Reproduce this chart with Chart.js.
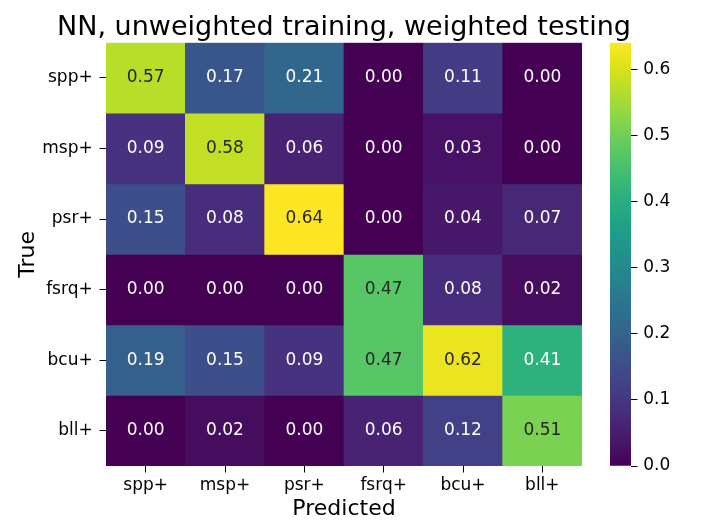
<!DOCTYPE html>
<html>
<head>
<meta charset="utf-8">
<script src="https://cdn.jsdelivr.net/npm/chart.js@4.4.1/dist/chart.umd.min.js"></script>
<style>
  body { margin: 0; background: #fff; }
  #wrap { position: relative; width: 706px; height: 530px; }
  #heat { position: absolute; left: 0; top: 0; }
  #cbar { position: absolute; left: 600px; top: 0; }
</style>
</head>
<body>
<div id="wrap">
  <canvas id="heat" width="706" height="530"></canvas>
  <canvas id="cbar" width="106" height="530"></canvas>
</div>
<script>
const predictedLabels = ['spp+', 'msp+', 'psr+', 'fsrq+', 'bcu+', 'bll+'];
const trueLabels = ['spp+', 'msp+', 'psr+', 'fsrq+', 'bcu+', 'bll+'];

// one row per true class
const rowSpp = [0.57, 0.17, 0.21, 0.00, 0.11, 0.00];
const rowMsp = [0.09, 0.58, 0.06, 0.00, 0.03, 0.00];
const rowPsr = [0.15, 0.08, 0.64, 0.00, 0.04, 0.07];
const rowFsrq = [0.00, 0.00, 0.00, 0.47, 0.08, 0.02];
const rowBcu = [0.19, 0.15, 0.09, 0.47, 0.62, 0.41];
const rowBll = [0.00, 0.02, 0.00, 0.06, 0.12, 0.51];
const rows = [rowSpp, rowMsp, rowPsr, rowFsrq, rowBcu, rowBll];

const colorbarTicks = [0.0, 0.1, 0.2, 0.3, 0.4, 0.5, 0.6];

const vmin = 0;
const vmax = Math.max(...rows.flat());

// viridis anchors (matplotlib)
const viridis = [
  '#440154', '#48186a', '#472d7b', '#424086', '#3b528b', '#33638d',
  '#2c728e', '#26828e', '#21918c', '#1fa088', '#28ae80', '#3fbc73',
  '#5ec962', '#84d44b', '#addc30', '#d8e219', '#fde725'
];

function hexToRgb(h) {
  return [parseInt(h.slice(1, 3), 16), parseInt(h.slice(3, 5), 16), parseInt(h.slice(5, 7), 16)];
}

function viridisRgb(t) {
  t = Math.min(1, Math.max(0, t));
  const pos = t * (viridis.length - 1);
  const i = Math.min(viridis.length - 2, Math.floor(pos));
  const f = pos - i;
  const a = hexToRgb(viridis[i]);
  const b = hexToRgb(viridis[i + 1]);
  return a.map((c, k) => Math.round(c + (b[k] - c) * f));
}

function cellColor(v) {
  const c = viridisRgb((v - vmin) / (vmax - vmin));
  return 'rgb(' + c.join(',') + ')';
}

// seaborn style: dark text on light cells
function textColor(v) {
  const lin = viridisRgb((v - vmin) / (vmax - vmin)).map(c => {
    c = c / 255;
    return c <= 0.03928 ? c / 12.92 : Math.pow((c + 0.055) / 1.055, 2.4);
  });
  const lum = 0.2126 * lin[0] + 0.7152 * lin[1] + 0.0722 * lin[2];
  return lum > 0.408 ? '#262626' : '#ffffff';
}

const FONT = 'DejaVu Sans';

const annotate = {
  id: 'annotate',
  afterDatasetsDraw(chart) {
    const ctx = chart.ctx;
    ctx.save();
    ctx.font = '17px "' + FONT + '"';
    ctx.textAlign = 'center';
    ctx.textBaseline = 'middle';
    chart.data.datasets.forEach((ds, i) => {
      chart.getDatasetMeta(i).data.forEach((bar, j) => {
        const v = rows[i][j];
        ctx.fillStyle = textColor(v);
        ctx.fillText(v.toFixed(2), bar.x, (bar.y + bar.base) / 2);
      });
    });
    ctx.restore();
  }
};

// title centred over the heatmap, not the whole canvas
const heatTitle = {
  id: 'heatTitle',
  afterDraw(chart) {
    const ctx = chart.ctx;
    const a = chart.chartArea;
    ctx.save();
    ctx.font = '27px "' + FONT + '"';
    ctx.fillStyle = '#000';
    ctx.textAlign = 'center';
    ctx.textBaseline = 'alphabetic';
    ctx.fillText('NN, unweighted training, weighted testing', (a.left + a.right) / 2, 35);
    ctx.restore();
  }
};

const datasets = rows.map((row, i) => ({
  label: trueLabels[i],
  data: row.map(() => [i, i + 1]),
  backgroundColor: row.map(v => cellColor(v)),
  borderWidth: 0,
  barPercentage: 1,
  categoryPercentage: 1,
  grouped: false
}));

new Chart(document.getElementById('heat'), {
  type: 'bar',
  data: { labels: predictedLabels, datasets: datasets },
  options: {
    responsive: false,
    animation: false,
    events: [],
    layout: { padding: { left: 0, right: 124, top: 42.7, bottom: 0 } },
    plugins: {
      legend: { display: false },
      tooltip: { enabled: false },
      title: { display: false }
    },
    scales: {
      x: {
        type: 'category',
        offset: true,
        afterFit(s) { s.height = 64; },
        grid: { display: true, drawOnChartArea: false, offset: false, tickColor: '#000', tickLength: 6.5, tickWidth: 1 },
        border: { display: false },
        ticks: { color: '#000', font: { family: FONT, size: 17 }, padding: 3.3, maxRotation: 0 },
        title: {
          display: true, text: 'Predicted', color: '#000',
          font: { family: FONT, size: 22 }, padding: { top: 0, bottom: 7.6 }
        }
      },
      y: {
        type: 'linear',
        min: 0,
        max: 6,
        reverse: true,
        afterFit(s) { s.width = 106; },
        afterBuildTicks(s) { s.ticks = trueLabels.map((_, i) => ({ value: i + 0.5 })); },
        grid: { display: true, drawOnChartArea: false, tickColor: '#000', tickLength: 6.5, tickWidth: 1 },
        border: { display: false },
        ticks: {
          color: '#000', font: { family: FONT, size: 17 }, padding: 6.8, autoSkip: false,
          callback: (v, idx) => trueLabels[idx]
        },
        title: {
          display: true, text: 'True', color: '#000',
          font: { family: FONT, size: 22 }, padding: { top: 15.3, bottom: 0 }
        }
      }
    }
  },
  plugins: [annotate, heatTitle]
});

// colour bar
new Chart(document.getElementById('cbar'), {
  type: 'bar',
  data: {
    labels: ['scale'],
    datasets: [{
      data: [[vmin, vmax]],
      borderWidth: 0,
      barPercentage: 1,
      categoryPercentage: 1,
      backgroundColor(c) {
        const chart = c.chart;
        const y = chart.scales.y;
        if (!y || !chart.chartArea) return viridis[0];
        const g = chart.ctx.createLinearGradient(0, y.getPixelForValue(vmin), 0, y.getPixelForValue(vmax));
        viridis.forEach((col, k) => g.addColorStop(k / (viridis.length - 1), col));
        return g;
      }
    }]
  },
  options: {
    responsive: false,
    animation: false,
    events: [],
    layout: { padding: { left: 10, right: 0, top: 42.7, bottom: 64 } },
    plugins: { legend: { display: false }, tooltip: { enabled: false } },
    scales: {
      x: { display: false },
      y: {
        position: 'right',
        min: vmin,
        max: vmax,
        afterFit(s) { s.width = 75; },
        afterBuildTicks(s) { s.ticks = colorbarTicks.map(v => ({ value: v })); },
        grid: { display: true, drawOnChartArea: false, tickColor: '#000', tickLength: 6.5, tickWidth: 1 },
        border: { display: false },
        ticks: {
          color: '#000', font: { family: FONT, size: 17 }, padding: 5.8,
          callback: v => v.toFixed(1)
        }
      }
    }
  }
});
</script>
</body>
</html>
